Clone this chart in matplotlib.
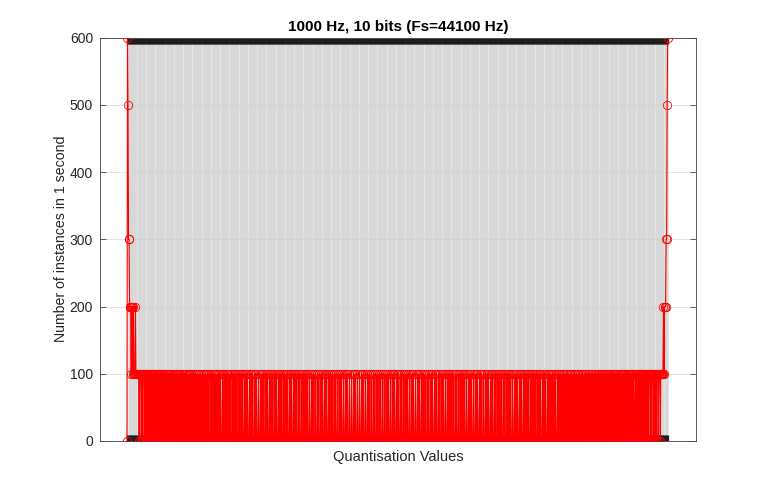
import numpy as np
import matplotlib
matplotlib.use("Agg")
import matplotlib.pyplot as plt

plt.rcParams['font.family'] = ['Liberation Sans', 'DejaVu Sans']

# counts per quantisation level, in hundreds (one digit per level)
count_rows = [
    "0653322212212111211111101110110111011010110110101101101011010110",
    "1010100101010100101001010010101010010100101001001001001010100100",
    "1001001001001001001001001001000100100100100100100100010010010010",
    "1001000100100100100010010010001001001000100100100010010001000100",
    "1001000100100010010010001001000100100100010001001000100100010010",
    "1000100100010001001001000100010010001000100100010010001001000100",
    "1000100010010001000100100010001001000100010001001000100010001001",
    "0001000100100010001001000100010010001000100010010001000100100010",
    "0100010010001000100100010001001000100010010001001000100010010001",
    "0010001001000100100010010001000100100100010001001000100010010010",
    "0010001001001000100010010001001000100010010010001001000100100010",
    "0100100010010001001001000100010010010001001000100100100100010010",
    "0100100010010010001001001000100100100100100100010010010010010010",
    "0100100100100100100100100100100100100100101001001001001001001010",
    "0101001010010100101010010101001010101001010101010010101010101010",
    "0110101101011011010110101101110110111011101110111011111211121221",
]
# last few levels on the right edge
edge_right = "2223356"

counts = [100 * int(c) for c in "".join(count_rows)[:-7] + edge_right]
levels = np.arange(len(counts))

title = "1000 Hz, 10 bits (Fs=44100 Hz)"
xlabel = "Quantisation Values"
ylabel = "Number of instances in 1 second"
yticks = [0, 100, 200, 300, 400, 500, 600]

fig = plt.figure(figsize=(7.68, 4.96), dpi=100)
ax = fig.add_axes([100/768, 55/496, 595.7/768, 403.5/496])

ax.plot(levels, counts, '-o', color='red', lw=0.8, markersize=6,
        markerfacecolor='none', markeredgewidth=0.6, zorder=3)

ax.set_xlim(-51, len(counts) + 52)
ax.set_ylim(0, 600)
ax.set_xticks(levels)
ax.set_xticklabels([])
ax.set_yticks(yticks)
ax.set_yticklabels([str(v) for v in yticks], fontsize=10, color='#262626')

ax.grid(True, color='#d0d0d0', lw=0.4)
ax.tick_params(axis='x', direction='in', length=4, width=0.9, color='#1e1e1e',
               top=True, bottom=True)
ax.tick_params(axis='y', direction='in', length=4, width=0.5, color='#262626',
               left=True, right=True, pad=5)
for s in ax.spines.values():
    s.set_color('#404040')
    s.set_linewidth(0.6)

ax.set_title(title, fontsize=11, fontweight='bold', color='black', pad=5)
ax.set_xlabel(xlabel, fontsize=10.5, color='#262626', labelpad=3)
ax.set_ylabel(ylabel, fontsize=10.2, color='#262626', labelpad=1)

fig.savefig("out.png", dpi=100)
